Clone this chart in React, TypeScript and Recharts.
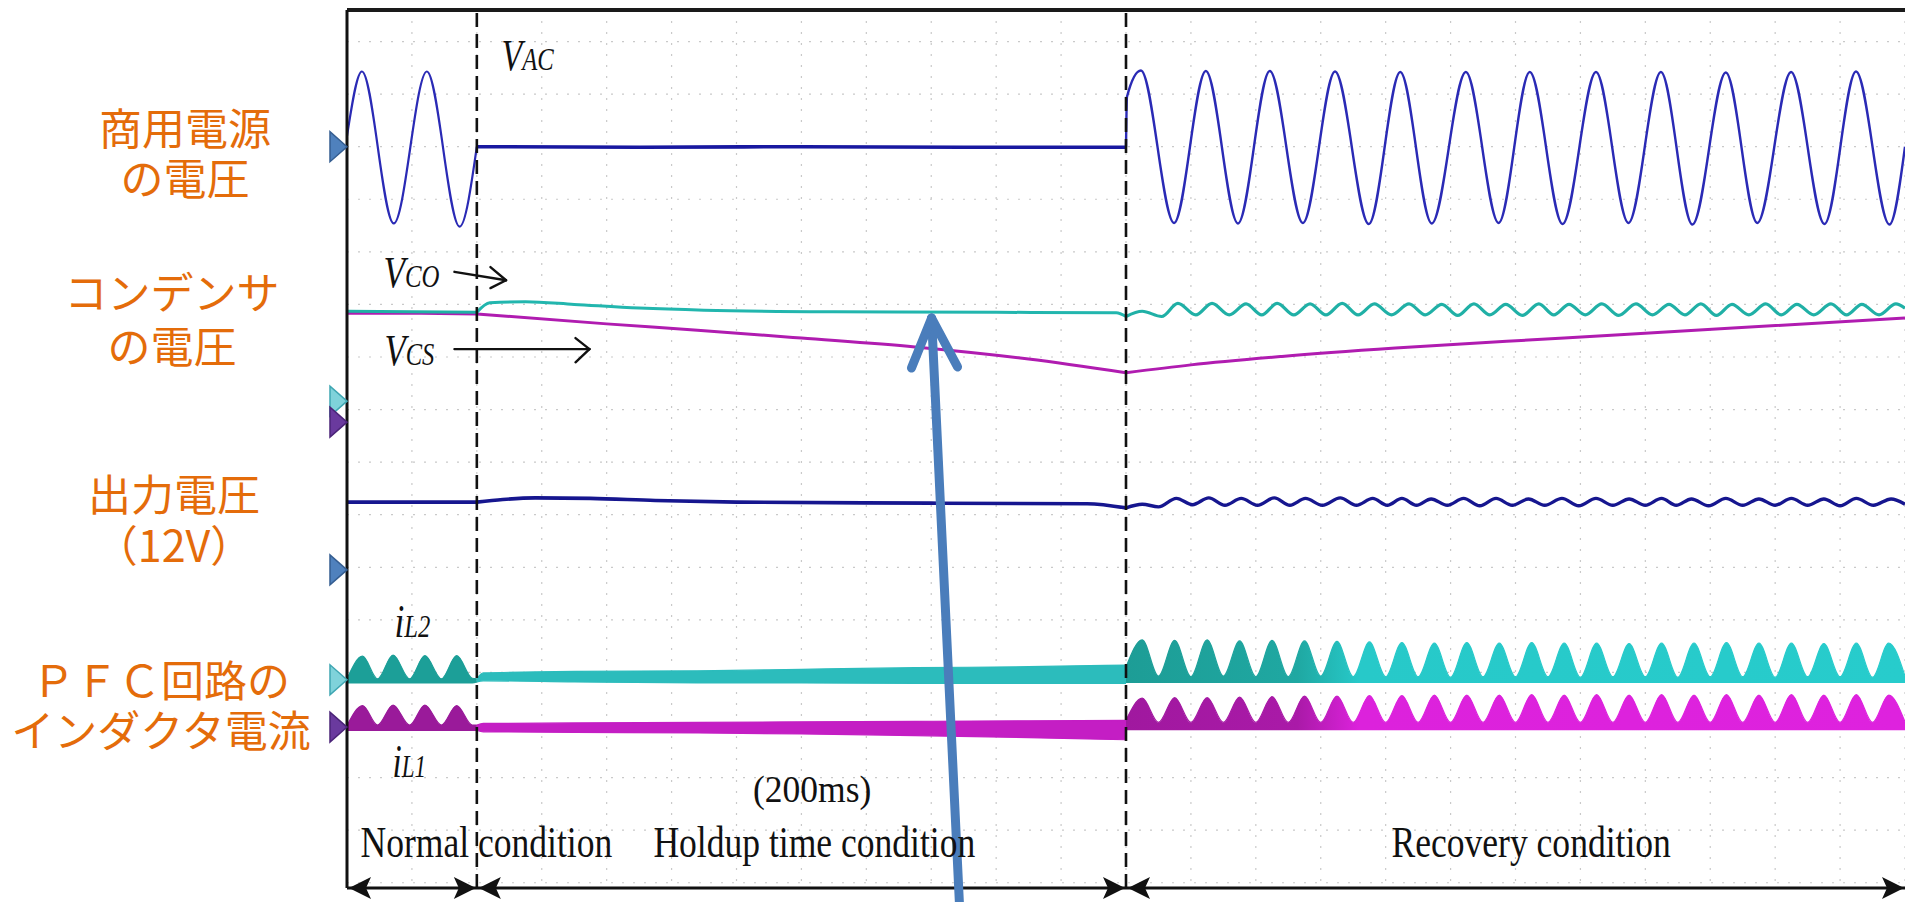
import {
  ComposedChart,
  Line,
  Area,
  XAxis,
  YAxis,
  CartesianGrid,
  ReferenceLine,
  ReferenceDot,
} from 'recharts';

// time axis in ms (20 ms per division), levels in screen divisions
const gridTimes = [0, 20, 40, 60, 80, 100, 120, 140, 160, 180, 200, 220, 240, 260, 280, 300, 320, 340, 360, 380, 400, 420, 440, 460, 480];
const gridLevels = [0, 1, 2, 3, 4, 5, 6, 7, 8, 9, 10, 11, 12, 13, 14, 15, 16];
const phaseBounds = [40, 240];

// V_AC  [t, level]
const vacNormal = [[0, 14.2], [4.6, 15.43], [14.4, 12.54], [24.6, 15.43], [34.7, 12.48], [40, 14.0]];
const vacHold = [[40, 14.0], [90, 13.99], [140, 14.0], [190, 13.99], [240, 13.99]];
const vacRecovery = [
  [240, 13.99], [240.3, 14.95], [244.6, 15.45], [254.8, 12.55], [264.6, 15.44], [274.5, 12.54],
  [284.3, 15.44], [294.5, 12.55], [304.4, 15.43], [314.8, 12.53], [324.5, 15.42], [334.2, 12.54],
  [344.7, 15.42], [354.8, 12.55], [364.4, 15.42], [374.5, 12.53], [384.8, 15.42], [394.8, 12.55],
  [404.8, 15.42], [414.5, 12.52], [424.8, 15.41], [434.5, 12.55], [444.9, 15.42], [455.2, 12.53],
  [464.9, 15.43], [475.2, 12.52], [480, 14.0],
];

// V_CO
const vcoNormal = [[0, 10.87], [20, 10.86], [40, 10.85]];
const vcoHold = [[40, 10.85], [44, 11.03], [55, 11.05], [70, 11.0], [90, 10.93], [110, 10.89], [150, 10.86], [200, 10.85], [237, 10.84], [240, 10.77]];
const vcoRecovery = [
  [240, 10.77], [245, 10.87], [251, 10.77], [256, 11.02], [261.5, 10.8], [266.5, 11.02], [271.8, 10.8],
  [277, 11.01], [281.8, 10.8], [286.6, 11.02], [291.7, 10.8], [296.7, 11.01], [301.6, 10.8], [306.6, 11.02],
  [311.5, 10.8], [316.5, 11.01], [321.8, 10.8], [327.2, 11.01], [332.2, 10.8], [337.3, 11.0], [342.2, 10.79],
  [347.2, 11.01], [352.1, 10.8], [357.0, 11.0], [362.1, 10.79], [367.2, 11.01], [371.8, 10.8], [376.5, 11.0],
  [381.5, 10.8], [386.6, 11.01], [391.8, 10.79], [397.1, 11.01], [402.2, 10.8], [407.3, 11.0], [412.2, 10.8],
  [417.1, 11.01], [421.9, 10.79], [426.7, 11.0], [431.9, 10.8], [437.1, 11.01], [441.9, 10.8], [446.7, 11.0],
  [451.9, 10.8], [457.2, 11.01], [462.0, 10.8], [466.7, 11.0], [472.0, 10.8], [477.2, 11.01], [480, 10.93],
];

// V_CS
const vcsNormal = [[0, 10.83], [20, 10.83], [40, 10.82]];
const vcsHold = [[40, 10.82], [80, 10.63], [108, 10.51], [140, 10.36], [175, 10.19], [210, 9.96], [240, 9.7]];
const vcsRecovery = [[240, 9.7], [260, 9.85], [288, 10.01], [323, 10.17], [375, 10.36], [427, 10.55], [480, 10.74]];

// output voltage (12V)
const voNormal = [[0, 7.24], [20, 7.24], [40, 7.24]];
const voHold = [[40, 7.24], [48, 7.29], [58, 7.32], [75, 7.31], [95, 7.27], [120, 7.24], [180, 7.22], [228, 7.21], [240, 7.13]];
const voRecovery = [
  [240, 7.13], [245, 7.2], [250, 7.15], [255.5, 7.31], [260.5, 7.19], [265.5, 7.32], [270.5, 7.18],
  [275.5, 7.31], [280.5, 7.18], [285.7, 7.32], [290.5, 7.18], [295.3, 7.31], [300.5, 7.18], [306, 7.32],
  [311, 7.18], [316, 7.31], [320.5, 7.18], [325, 7.31], [329.5, 7.18], [334, 7.3], [339, 7.18], [344, 7.31],
  [349, 7.17], [354, 7.31], [359, 7.18], [364, 7.3], [369, 7.18], [374.3, 7.31], [379.5, 7.17], [384.8, 7.31],
  [390, 7.18], [395, 7.3], [400, 7.18], [405, 7.31], [409.5, 7.18], [414.2, 7.3], [419.5, 7.17], [424.8, 7.31],
  [430, 7.18], [435, 7.3], [440, 7.18], [445, 7.31], [450, 7.18], [455, 7.3], [460, 7.17], [465, 7.31],
  [470.3, 7.18], [475.7, 7.3], [480, 7.2],
];

// inductor currents, envelope bands [t, low, high]
const il2Normal = [[0, 3.8, 3.88], [4.8, 3.8, 4.31], [9.4, 3.8, 3.88], [14.2, 3.8, 4.33], [19.3, 3.8, 3.88], [24.0, 3.8, 4.32], [29.1, 3.8, 3.88], [33.8, 3.8, 4.32], [38.6, 3.8, 3.89], [40, 3.82, 3.88]];
const il2Hold = [[40, 3.82, 3.88], [42, 3.84, 3.99], [70, 3.82, 4.02], [108, 3.8, 4.03], [140, 3.8, 4.06], [175, 3.79, 4.09], [210, 3.79, 4.11], [240, 3.79, 4.14]];
const il2Recovery = [
  [240, 3.8, 4.1], [245, 3.8, 4.62], [250, 3.8, 3.93], [255, 3.8, 4.61], [260, 3.8, 3.92], [265, 3.8, 4.62],
  [270, 3.8, 3.93], [275, 3.8, 4.6], [280, 3.8, 3.92], [285, 3.8, 4.61], [290, 3.8, 3.92], [295, 3.8, 4.6],
  [300, 3.8, 3.93], [305, 3.8, 4.59], [310, 3.8, 3.92], [315, 3.8, 4.58], [320, 3.8, 3.92], [325, 3.8, 4.57],
  [330, 3.8, 3.92], [335, 3.8, 4.56], [340, 3.8, 3.91], [345, 3.8, 4.57], [350, 3.8, 3.92], [355, 3.8, 4.56],
  [360, 3.8, 3.92], [365, 3.8, 4.57], [370, 3.8, 3.92], [375, 3.8, 4.56], [380, 3.8, 3.91], [385, 3.8, 4.56],
  [390, 3.8, 3.92], [395, 3.8, 4.55], [400, 3.8, 3.92], [405, 3.8, 4.56], [410, 3.8, 3.91], [415, 3.8, 4.56],
  [420, 3.8, 3.92], [425, 3.8, 4.57], [430, 3.8, 3.92], [435, 3.8, 4.56], [440, 3.8, 3.91], [445, 3.8, 4.56],
  [450, 3.8, 3.92], [455, 3.8, 4.55], [460, 3.8, 3.92], [465, 3.8, 4.56], [470, 3.8, 3.91], [475, 3.8, 4.56],
  [480, 3.8, 3.93],
];
const il1Normal = [[0, 2.9, 2.99], [4.8, 2.9, 3.37], [9.4, 2.9, 3.0], [14.2, 2.9, 3.38], [19.3, 2.9, 3.0], [24, 2.9, 3.38], [29.1, 2.9, 3.0], [33.8, 2.9, 3.37], [38.6, 2.9, 3.0], [40, 2.9, 3.0]];
const il1Hold = [[40, 2.9, 3.0], [42, 2.87, 3.03], [70, 2.86, 3.04], [108, 2.85, 3.05], [140, 2.83, 3.06], [175, 2.8, 3.07], [210, 2.76, 3.08], [240, 2.72, 3.09]];
const il1Recovery = [
  [240, 2.9, 3.09], [245, 2.9, 3.51], [250, 2.9, 3.05], [255, 2.9, 3.52], [260, 2.9, 3.05], [265, 2.9, 3.52],
  [270, 2.9, 3.05], [275, 2.9, 3.53], [280, 2.9, 3.05], [285, 2.9, 3.54], [290, 2.9, 3.05], [295, 2.9, 3.55],
  [300, 2.9, 3.05], [305, 2.9, 3.55], [310, 2.9, 3.05], [315, 2.9, 3.56], [320, 2.9, 3.05], [325, 2.9, 3.56],
  [330, 2.9, 3.05], [335, 2.9, 3.57], [340, 2.9, 3.05], [345, 2.9, 3.57], [350, 2.9, 3.05], [355, 2.9, 3.57],
  [360, 2.9, 3.05], [365, 2.9, 3.58], [370, 2.9, 3.05], [375, 2.9, 3.57], [380, 2.9, 3.05], [385, 2.9, 3.58],
  [390, 2.9, 3.05], [395, 2.9, 3.57], [400, 2.9, 3.05], [405, 2.9, 3.58], [410, 2.9, 3.05], [415, 2.9, 3.57],
  [420, 2.9, 3.05], [425, 2.9, 3.58], [430, 2.9, 3.05], [435, 2.9, 3.57], [440, 2.9, 3.05], [445, 2.9, 3.58],
  [450, 2.9, 3.05], [455, 2.9, 3.57], [460, 2.9, 3.05], [465, 2.9, 3.58], [470, 2.9, 3.05], [475, 2.9, 3.57],
  [480, 2.9, 3.06],
];

// channel reference levels (scope ground markers)
const markerLevels = [14.0, 9.16, 8.76, 5.95, 3.86, 2.96];
const markerKinds = ['blue', 'cyan', 'purple', 'blue', 'cyan', 'purple'];

// channel names shown left of the screen
const channelNames = ['商用電源\nの電圧', 'コンデンサ\nの電圧', '出力電圧\n（12V）', 'ＰＦＣ回路の\nインダクタ電流'];

const markerColors: Record<string, [string, string]> = {
  blue: ['#4f81bd', '#355e91'],
  cyan: ['#7fd2da', '#3fa6b2'],
  purple: ['#6a3a9e', '#4b2478'],
};

const pts = (rows: number[][]) => rows.map(([t, v]) => ({ t, v }));
const band = (rows: number[][]) => rows.map(([t, lo, hi]) => ({ t, r: [lo, hi] }));

const JP = "'Noto Sans CJK JP', 'Noto Sans', sans-serif";
const SERIF = "'Liberation Serif', 'Times New Roman', serif";
const ORANGE = '#e46c0a';

// page placement of the channel-name blocks (centre x, top, line height)
const nameBoxes = [
  { cx: 185, top: 101, lh: 50 },
  { cx: 172, top: 263, lh: 54 },
  { cx: 174, top: 467, lh: 50.5 },
  { cx: 161, top: 653, lh: 50 },
];

type Note = {
  t: number;
  v: number;
  text: string;
  size: number;
  sx: number;
  italic?: boolean;
  anchor?: 'start' | 'middle';
  sub?: string;
  subSize?: number;
};

// the scanned figure is squeezed horizontally, sx keeps that look
const sym = (t: number, v: number, text: string, size: number, sub: string, subSize: number, sx: number): Note => ({
  t, v, text, size, sub, subSize, italic: true, sx,
});
const rm = (t: number, v: number, text: string, size: number, sx: number, anchor: 'start' | 'middle' = 'start'): Note => ({
  t, v, text, size, sx, anchor,
});

const notes: Note[] = [
  sym(47.6, 15.46, 'V', 44, 'AC', 32, 0.77),
  sym(11.25, 11.33, 'V', 44, 'CO', 31, 0.8),
  sym(11.55, 9.85, 'V', 44, 'CS', 31, 0.79),
  sym(14.6, 4.67, 'i', 46, 'L2', 32, 0.77),
  sym(14.0, 2.01, 'i', 46, 'L1', 32, 0.72),
  rm(143.3, 1.54, '(200ms)', 37, 0.96, 'middle'),
  rm(4.16, 0.49, 'Normal condition', 45, 0.79),
  rm(94.4, 0.49, 'Holdup time condition', 45, 0.79),
  rm(321.8, 0.49, 'Recovery condition', 45, 0.79),
];

// label arrows (black) and highlight arrow (blue), in data units
const blackArrows = [
  [[33.1, 11.62], [49.0, 11.46]],
  [[44.2, 11.71], [49.0, 11.46]],
  [[44.2, 11.31], [49.0, 11.46]],
  [[33.1, 10.15], [74.7, 10.15]],
  [[70.4, 10.36], [74.7, 10.15]],
  [[70.4, 9.9], [74.7, 10.15]],
];
const blueArrow = [
  [[188.7, -0.42], [180.1, 10.74]],
  [[173.9, 9.79], [180.1, 10.74]],
  [[188.1, 9.81], [180.1, 10.74]],
];

// bottom span arrows: [t, direction]
const spanHeads: [number, number][] = [[0, -1], [40, 1], [40, -1], [240, 1], [240, -1], [480, 1]];

const series = (key: string, data: number[][], color: string, width: number) => (
  <Line
    key={key}
    data={pts(data)}
    dataKey="v"
    type="monotone"
    stroke={color}
    strokeWidth={width}
    dot={false}
    activeDot={false}
    isAnimationActive={false}
  />
);

const bandSeries = (key: string, data: number[][], fill: string, stroke: string) => (
  <Area
    key={key}
    data={band(data)}
    dataKey="r"
    type="monotone"
    fill={fill}
    fillOpacity={1}
    stroke={stroke}
    strokeWidth={1.2}
    dot={false}
    activeDot={false}
    isAnimationActive={false}
  />
);

const App = () => {
  return (
    <div
      style={{
        position: 'absolute',
        left: 0,
        top: 0,
        width: 1905,
        height: 902,
        background: '#fff',
        overflow: 'hidden',
      }}
    >
      <ComposedChart width={1905} height={902} margin={{ top: 10, right: 0, bottom: 14, left: 347 }}>
        <defs>
          <linearGradient id='il2Rec' x1='0' y1='0' x2='1' y2='0'>
            <stop offset='0%' stopColor='#1d9d96' />
            <stop offset='22%' stopColor='#1fa8a2' />
            <stop offset='30%' stopColor='#27c9c9' />
            <stop offset='100%' stopColor='#27cccc' />
          </linearGradient>
          <linearGradient id='il1Rec' x1='0' y1='0' x2='1' y2='0'>
            <stop offset='0%' stopColor='#a0189f' />
            <stop offset='22%' stopColor='#aa1aa8' />
            <stop offset='30%' stopColor='#dc22dc' />
            <stop offset='100%' stopColor='#de22de' />
          </linearGradient>
        </defs>
        <XAxis type='number' dataKey='t' domain={[0, 480]} ticks={gridTimes} allowDataOverflow hide />
        <YAxis type='number' domain={[-0.1, 16.6]} ticks={gridLevels} allowDataOverflow hide />
        <CartesianGrid stroke='#c9c9c9' strokeWidth={1.2} strokeDasharray='2 9' />

        {bandSeries('il2n', il2Normal, '#1c9f98', '#1c9f98')}
        {bandSeries('il2h', il2Hold, '#2cbcbc', '#2cbcbc')}
        {bandSeries('il2r', il2Recovery, 'url(#il2Rec)', 'url(#il2Rec)')}
        {bandSeries('il1n', il1Normal, '#9a1a9a', '#9a1a9a')}
        {bandSeries('il1h', il1Hold, '#c41ec4', '#c41ec4')}
        {bandSeries('il1r', il1Recovery, 'url(#il1Rec)', 'url(#il1Rec)')}

        {series('vacN', vacNormal, '#2a2ab5', 2.2)}
        {series('vacH', vacHold, '#1818a0', 3.6)}
        {series('vacR', vacRecovery, '#2a2ab5', 2.4)}
        {series('vcsN', vcsNormal, '#b01cb0', 3)}
        {series('vcsH', vcsHold, '#b01cb0', 3)}
        {series('vcsR', vcsRecovery, '#b01cb0', 3)}
        {series('vcoN', vcoNormal, '#20b0a6', 3)}
        {series('vcoH', vcoHold, '#22b6ae', 3)}
        {series('vcoR', vcoRecovery, '#20b0a6', 3.2)}
        {series('voN', voNormal, '#16168f', 3.6)}
        {series('voH', voHold, '#16168f', 3.6)}
        {series('voR', voRecovery, '#16168f', 3.4)}

        {phaseBounds.map((t) => (
          <ReferenceLine key={`pb${t}`} x={t} stroke='#111' strokeWidth={2.6} strokeDasharray='14 7' ifOverflow='visible' />
        ))}

        <ReferenceLine y={16.6} stroke='#1a1a1a' strokeWidth={4} ifOverflow='visible' />
        <ReferenceLine x={0} stroke='#111' strokeWidth={3} ifOverflow='visible' />
        <ReferenceLine y={-0.1} stroke='#111' strokeWidth={3} ifOverflow='visible' />

        {spanHeads.map(([t, dir], i) => (
          <ReferenceDot
            key={`sh${i}`}
            x={t}
            y={-0.1}
            r={1}
            ifOverflow='visible'
            shape={(p: any) => {
              const x0 = p.cx + (dir < 0 ? 2 : -1);
              const y0 = p.cy;
              const d = -dir;
              return (
                <path
                  d={`M${x0},${y0} L${x0 + d * 22},${y0 - 11} L${x0 + d * 17},${y0} L${x0 + d * 22},${y0 + 11} Z`}
                  fill='#111'
                />
              );
            }}
          />
        ))}

        {markerLevels.map((v, i) => (
          <ReferenceDot
            key={`mk${i}`}
            x={0}
            y={v}
            r={1}
            ifOverflow='visible'
            shape={(p: any) => {
              const [fill, edge] = markerColors[markerKinds[i]];
              return (
                <path
                  d={`M${p.cx},${p.cy} L${p.cx - 17},${p.cy - 15} L${p.cx - 17},${p.cy + 15} Z`}
                  fill={fill}
                  stroke={edge}
                  strokeWidth={1.5}
                />
              );
            }}
          />
        ))}

        {blackArrows.map(([a, b], i) => (
          <ReferenceLine
            key={`ba${i}`}
            segment={[{ x: a[0], y: a[1] }, { x: b[0], y: b[1] }]}
            stroke='#111'
            strokeWidth={2.4}
            strokeLinecap='round'
            ifOverflow='visible'
          />
        ))}

        {notes.map((n, i) => (
          <ReferenceDot
            key={`nt${i}`}
            x={n.t}
            y={n.v}
            r={1}
            ifOverflow='visible'
            shape={(p: any) => (
              <g transform={`translate(${p.cx},${p.cy}) scale(${n.sx},1)`}>
                <text
                  x={0}
                  y={0}
                  fontFamily={SERIF}
                  fontSize={n.size}
                  fontStyle={n.italic ? 'italic' : 'normal'}
                  textAnchor={n.anchor ?? 'start'}
                  fill='#111'
                >
                  {n.text}
                  {n.sub ? <tspan fontSize={n.subSize}>{n.sub}</tspan> : null}
                </text>
              </g>
            )}
          />
        ))}

        {blueArrow.map(([a, b], i) => (
          <ReferenceLine
            key={`bl${i}`}
            segment={[{ x: a[0], y: a[1] }, { x: b[0], y: b[1] }]}
            stroke='#4a7dbb'
            strokeWidth={9}
            strokeLinecap='round'
            ifOverflow='visible'
          />
        ))}
      </ComposedChart>

      {channelNames.map((name, i) => (
        <div
          key={`cn${i}`}
          style={{
            position: 'absolute',
            left: nameBoxes[i].cx - 160,
            top: nameBoxes[i].top,
            width: 320,
            textAlign: 'center',
            whiteSpace: 'pre-line',
            fontFamily: JP,
            fontSize: 43,
            lineHeight: `${nameBoxes[i].lh}px`,
            color: ORANGE,
          }}
        >
          {name}
        </div>
      ))}
    </div>
  );
};

export default App;
